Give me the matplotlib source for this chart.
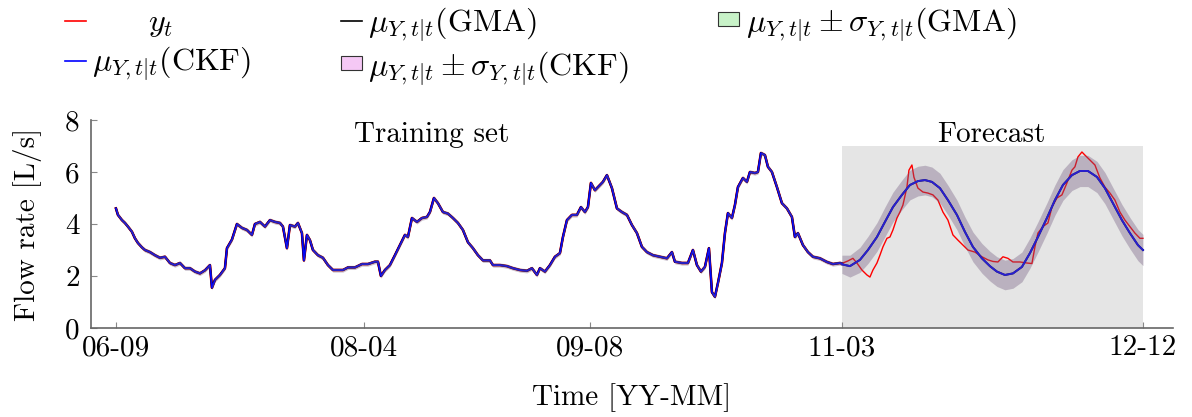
import matplotlib
matplotlib.use('Agg')
import matplotlib.pyplot as plt
from matplotlib.lines import Line2D
from matplotlib.patches import Patch
import numpy as np

plt.rcParams['font.family'] = ['cmr10', 'DejaVu Sans']
plt.rcParams['mathtext.fontset'] = 'cm'
plt.rcParams['axes.unicode_minus'] = False

# time index (samples since 06-09) and flow rate in the training set
t_train = [0, 2, 6, 9, 12, 16, 19, 22, 26, 29, 34, 39, 44, 49, 54, 59, 64, 69, 74, 79,
           84, 89, 94, 96, 99, 104, 109, 111, 116, 121, 126, 131, 136, 139, 144, 149,
           154, 159, 164, 167, 171, 174, 179, 182, 186, 188, 191, 194, 197, 202, 207,
           212, 217, 222, 227, 232, 239, 246, 252, 259, 262, 265, 269, 274, 279, 284,
           289, 292, 296, 301, 306, 311, 314, 318, 322, 327, 332, 337, 342, 347, 352,
           357, 362, 367, 372, 374, 377, 384, 391, 397, 404, 411, 416, 421, 424, 429,
           434, 439, 444, 447, 451, 456, 461, 465, 469, 472, 475, 479, 484, 487, 491,
           496, 501, 506, 511, 516, 521, 526, 531, 537, 544, 551, 556, 559, 566, 572,
           577, 581, 585, 589, 593, 596, 599, 602, 606, 609, 612, 616, 619, 622, 627,
           631, 634, 639, 642, 645, 649, 652, 656, 661, 666, 671, 676, 679, 682, 687,
           692, 697, 704, 711, 717, 724, 726]
y_train = [4.6, 4.35, 4.15, 4.04, 3.9, 3.7, 3.45, 3.27, 3.1, 3.0, 2.92, 2.8, 2.7, 2.74,
           2.5, 2.42, 2.5, 2.3, 2.3, 2.17, 2.1, 2.22, 2.42, 1.55, 1.85, 2.04, 2.3, 3.07,
           3.4, 4.0, 3.85, 3.77, 3.58, 4.0, 4.08, 3.9, 4.15, 4.08, 4.04, 3.9, 3.07, 3.96,
           3.9, 4.04, 3.65, 2.6, 3.58, 3.38, 3.0, 2.8, 2.7, 2.42, 2.23, 2.23, 2.23, 2.33,
           2.33, 2.46, 2.46, 2.55, 2.55, 2.0, 2.23, 2.42, 2.8, 3.19, 3.58, 3.5, 4.23,
           4.08, 4.23, 4.27, 4.46, 5.0, 4.8, 4.46, 4.4, 4.23, 4.04, 3.77, 3.3, 3.07, 2.8,
           2.6, 2.6, 2.6, 2.42, 2.42, 2.38, 2.3, 2.23, 2.2, 2.3, 2.04, 2.3, 2.17, 2.42,
           2.74, 2.88, 3.5, 4.15, 4.35, 4.35, 4.65, 4.46, 4.65, 5.58, 5.3, 5.5, 5.62,
           5.88, 5.38, 4.6, 4.46, 4.35, 3.96, 3.65, 3.12, 2.92, 2.8, 2.74, 2.68, 2.92,
           2.55, 2.5, 2.5, 3.0, 2.42, 2.17, 2.35, 3.07, 1.38, 1.2, 1.73, 2.5, 3.65, 4.42,
           4.23, 4.73, 5.42, 5.77, 5.62, 6.0, 5.96, 6.0, 6.73, 6.65, 6.2, 6.0, 5.42, 4.8,
           4.6, 4.27, 3.5, 3.65, 3.19, 2.92, 2.74, 2.68, 2.54, 2.46, 2.5, 2.48]
train_sigma = 0.08

# observed flow rate during the forecast period
t_obs_fc = [726, 727, 732, 737, 741, 746, 751, 754, 757, 761, 764, 767, 771, 774, 777,
            781, 784, 787, 791, 793, 796, 798, 802, 807, 812, 817, 822, 827, 832, 837,
            842, 847, 852, 859, 866, 872, 877, 882, 887, 892, 897, 904, 911, 916, 919,
            922, 927, 932, 936, 941, 946, 951, 956, 959, 962, 966, 969, 974, 979, 984,
            989, 994, 999, 1004, 1009, 1014, 1019, 1024, 1027]
y_obs_fc = [2.48, 2.5, 2.58, 2.68, 2.5, 2.23, 2.04, 1.96, 2.23, 2.5, 2.8, 3.12, 3.45,
            3.5, 3.77, 4.23, 4.46, 4.73, 5.42, 6.07, 6.27, 5.8, 5.38, 5.23, 5.19, 5.12,
            4.92, 4.46, 4.15, 3.58, 3.38, 3.19, 3.0, 2.92, 2.74, 2.62, 2.56, 2.54, 2.74,
            2.68, 2.54, 2.54, 2.5, 2.48, 3.12, 3.65, 3.9, 4.04, 4.65, 5.0, 5.12, 5.58,
            6.07, 6.2, 6.58, 6.77, 6.65, 6.46, 6.27, 5.77, 5.42, 5.19, 4.92, 4.46, 4.15,
            3.9, 3.65, 3.45, 3.45]

# forecast mean and standard deviation
t_fc = [726, 734, 744, 752, 761, 769, 777, 786, 794, 802, 809, 816, 824, 832, 841, 849,
        857, 866, 874, 881, 889, 897, 906, 914, 922, 931, 939, 947, 956, 964, 972, 981,
        989, 997, 1006, 1014, 1022, 1027]
mu_fc = [2.45, 2.38, 2.62, 3.0, 3.5, 4.08, 4.65, 5.12, 5.5, 5.65, 5.69, 5.62, 5.38, 4.92,
         4.35, 3.7, 3.12, 2.68, 2.38, 2.17, 2.04, 2.1, 2.35, 2.88, 3.5, 4.23, 4.92, 5.5,
         5.88, 6.04, 6.04, 5.81, 5.38, 4.8, 4.15, 3.65, 3.19, 3.0]
sigma_fc = [0.35, 0.42, 0.48, 0.52, 0.55, 0.57, 0.57, 0.57, 0.57, 0.57, 0.57, 0.57,
            0.57, 0.57, 0.57, 0.57, 0.57, 0.57, 0.57, 0.57, 0.57, 0.57, 0.57, 0.58,
            0.58, 0.58, 0.58, 0.59, 0.59, 0.6, 0.6, 0.6, 0.6, 0.6, 0.6, 0.6, 0.6, 0.6]

tick_pos = [0, 248, 474, 726, 1027]
tick_labels = ['06-09', '08-04', '09-08', '11-03', '12-12']
forecast_top = 7

FS = 21
LEG_FS = 23


def main():
    fig = plt.figure(figsize=(11.92, 4.17), dpi=100)
    ax = fig.add_axes([0.0763, 0.2134, 0.9077, 0.4988])

    ytr = np.array(y_train)
    mfc = np.array(mu_fc)
    sfc = np.array(sigma_fc)

    # forecast area
    ax.fill_between([t_fc[0], t_fc[-1]], 0, forecast_top, color='#e5e5e5',
                    lw=0, zorder=0)

    ax.plot(t_train, y_train, color='#ff0000', lw=1.9, zorder=2)
    ax.plot(t_obs_fc, y_obs_fc, color='#ff0000', lw=1.0, zorder=2)
    ax.plot(t_train, y_train, color='black', lw=1.6, zorder=3)
    ax.plot(t_fc, mu_fc, color='black', lw=1.4, zorder=3)
    ax.plot(t_train, y_train, color='#0000ff', lw=1.3, zorder=4)
    ax.plot(t_fc, mu_fc, color='#0000ff', lw=1.4, zorder=4)

    # uncertainty bands drawn on top
    ax.fill_between(t_train, ytr - train_sigma, ytr + train_sigma,
                    color=(0.3, 0.4, 0.3), alpha=0.15, lw=0, zorder=5)
    ax.fill_between(t_train, ytr - train_sigma, ytr + train_sigma,
                    color=(0.5, 0.32, 0.58), alpha=0.25, lw=0, zorder=5)
    ax.fill_between(t_fc, mfc - sfc, mfc + sfc,
                    color=(0.3, 0.4, 0.3), alpha=0.15, lw=0, zorder=5)
    ax.fill_between(t_fc, mfc - sfc, mfc + sfc,
                    color=(0.5, 0.32, 0.58), alpha=0.25, lw=0, zorder=5)

    ax.text(316, 7.42, 'Training set', ha='center', va='center', fontsize=FS)
    ax.text(875, 7.42, 'Forecast', ha='center', va='center', fontsize=FS)

    ax.set_xlim(-25, 1057)
    ax.set_ylim(0, 8)
    ax.set_xticks(tick_pos)
    ax.set_xticklabels(tick_labels)
    ax.set_yticks([0, 2, 4, 6, 8])
    for s in ['top', 'right']:
        ax.spines[s].set_visible(False)
    for s in ['left', 'bottom']:
        ax.spines[s].set_color('#666666')
        ax.spines[s].set_linewidth(1.2)
    ax.tick_params(direction='in', length=4, color='#888888', labelsize=FS)
    ax.tick_params(axis='x', pad=5)
    ax.tick_params(axis='y', pad=8)
    ax.set_ylabel('Flow rate [L/s]', fontsize=FS, labelpad=17)
    ax.set_xlabel('Time [YY-MM]', fontsize=FS, labelpad=16)

    handles = [
        Line2D([], [], color='#ff0000', lw=1.2),
        Line2D([], [], color='#0000ff', lw=1.2),
        Line2D([], [], color='black', lw=1.2),
        Patch(facecolor='#f5c8f5', edgecolor='#333333', lw=0.8),
        Patch(facecolor='#c8f2c8', edgecolor='#333333', lw=0.8),
    ]
    labels = [
        r'$\qquad y_t$',
        r'$\mu_{Y,t|t}$(CKF)',
        r'$\mu_{Y,t|t}$(GMA)',
        r'$\mu_{Y,t|t} \pm \sigma_{Y,t|t}$(CKF)',
        r'$\mu_{Y,t|t} \pm \sigma_{Y,t|t}$(GMA)',
    ]
    fig.legend(handles, labels, loc='upper left', bbox_to_anchor=(0.052, 0.995),
               ncol=3, frameon=False, fontsize=LEG_FS, handlelength=0.65,
               handleheight=0.3, handletextpad=0.2, columnspacing=2.8,
               labelspacing=0.18, borderpad=0.1, borderaxespad=0)

    fig.savefig('out.png', dpi=100)


if __name__ == '__main__':
    main()
